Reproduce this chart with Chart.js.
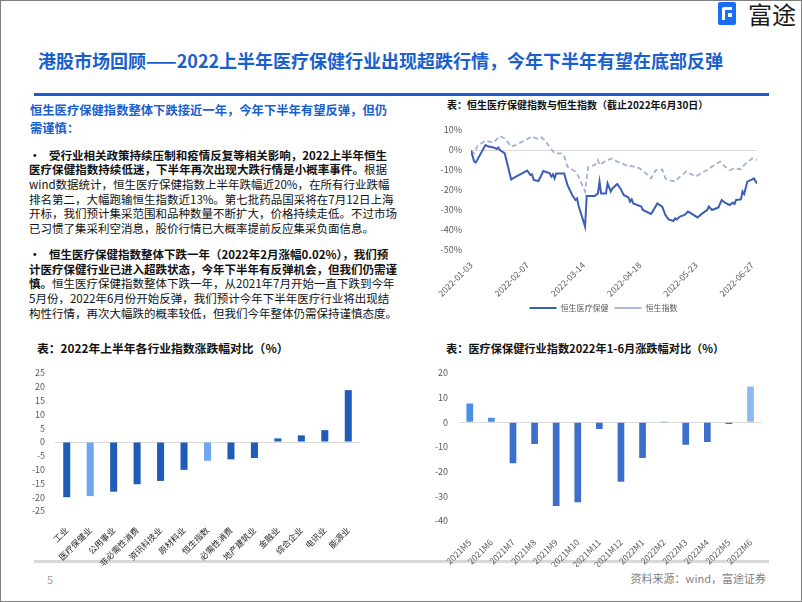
<!DOCTYPE html>
<html><head><meta charset="utf-8">
<script src="https://cdn.jsdelivr.net/npm/chart.js@4.4.1/dist/chart.umd.min.js"></script>
<style>
html,body{margin:0;padding:0;background:#fff;}
#page{position:relative;width:802px;height:602px;overflow:hidden;font-family:"Noto Sans CJK SC","Noto Sans",sans-serif;background:#fff;}
#frame{position:absolute;left:0;top:0;width:800px;height:600px;border:1px solid #7f7f7f;pointer-events:none;}
.t{position:absolute;white-space:nowrap;}
.j{text-align:justify;text-align-last:justify;}
.title{font-size:18px;font-weight:700;color:#1a5fcf;line-height:24px;}
.hd{font-size:12.3px;font-weight:700;color:#1a5fcf;line-height:18px;}
.bd{font-size:11.5px;line-height:15px;color:#111;}
.bd b{font-weight:700;}
.ct{font-weight:700;color:#111;line-height:16px;}
.box{position:absolute;}
</style></head>
<body><div id="page">
<!-- logo -->
<div class="box" style="left:718px;top:2px;width:18px;height:23px;background:#1a6ef5;border-radius:2px;"></div>
<div class="box" style="left:722px;top:7px;width:10px;height:3px;background:#fff;border-top-left-radius:3px;"></div>
<div class="box" style="left:722px;top:7px;width:3px;height:13px;background:#fff;border-top-left-radius:3px;"></div>
<div class="box" style="left:728px;top:13px;width:4px;height:4px;background:#fff;"></div>
<div class="t" style="left:748px;top:0px;font-size:24px;line-height:28px;color:#1a1a1a;">富途</div>

<div class="t title" style="left:38px;top:48px;">港股市场回顾——2022上半年医疗保健行业出现超跌行情，今年下半年有望在底部反弹</div>
<div class="box" style="left:34px;top:93px;width:735px;height:3px;background:#1a5fcf;"></div>

<div class="t hd j" style="left:30px;top:101px;width:357px;">恒生医疗保健指数整体下跌接近一年，今年下半年有望反弹，但仍</div>
<div class="t hd" style="left:30px;top:119px;">需谨慎：</div>

<div class="t bd" style="left:29px;top:147.5px;"><b>•</b></div>
<div class="t bd j" style="left:49px;top:147.5px;width:338px;"><b>受行业相关政策持续压制和疫情反复等相关影响，2022上半年恒生</b></div>
<div class="t bd j" style="left:29px;top:162px;width:358px;"><b>医疗保健指数持续低迷，下半年再次出现大跌行情是小概率事件。</b>根据</div>
<div class="t bd j" style="left:29px;top:176.5px;width:358px;">wind数据统计，恒生医疗保健指数上半年跌幅近20%，在所有行业跌幅</div>
<div class="t bd j" style="left:29px;top:191.5px;width:358px;">排名第二，大幅跑输恒生指数近13%。第七批药品国采将在7月12日上海</div>
<div class="t bd j" style="left:29px;top:206px;width:358px;">开标，我们预计集采范围和品种数量不断扩大，价格持续走低。不过市场</div>
<div class="t bd" style="left:29px;top:220.5px;">已习惯了集采利空消息，股价行情已大概率提前反应集采负面信息。</div>

<div class="t bd" style="left:29px;top:246.5px;"><b>•</b></div>
<div class="t bd j" style="left:49px;top:246.5px;width:338px;"><b>恒生医疗保健指数整体下跌一年（2022年2月涨幅0.02%），我们预</b></div>
<div class="t bd j" style="left:29px;top:261.5px;width:358px;"><b>计医疗保健行业已进入超跌状态，今年下半年有反弹机会，但我们仍需谨</b></div>
<div class="t bd j" style="left:29px;top:276px;width:358px;"><b>慎。</b>恒生医疗保健指数整体下跌一年，从2021年7月开始一直下跌到今年</div>
<div class="t bd j" style="left:29px;top:290.5px;width:358px;">5月份，2022年6月份开始反弹，我们预计今年下半年医疗行业将出现结</div>
<div class="t bd" style="left:29px;top:305.5px;">构性行情，再次大幅跌的概率较低，但我们今年整体仍需保持谨慎态度。</div>

<div class="t ct" style="left:447px;top:97px;font-size:10px;">表：恒生医疗保健指数与恒生指数（截止2022年6月30日）</div>
<div class="t ct" style="left:37px;top:340px;font-size:11.8px;">表：2022年上半年各行业指数涨跌幅对比（%）</div>
<div class="t ct" style="left:446px;top:340px;font-size:11.2px;">表：医疗保保健行业指数2022年1-6月涨跌幅对比（%）</div>

<div class="box" style="left:34px;top:560px;width:735px;height:3px;background:#d9d9d9;"></div>

<div class="box" style="left:420px;top:108px;width:345px;height:214px;"><canvas id="c1"></canvas></div>
<div class="box" style="left:30px;top:353px;width:334px;height:216px;"><canvas id="c2"></canvas></div>
<div class="box" style="left:420px;top:353px;width:346px;height:214px;"><canvas id="c3"></canvas></div>

<div class="t" style="left:47px;top:571px;font-size:11px;line-height:16px;color:#a6a6a6;">5</div>
<div class="t" style="right:36px;top:570px;font-size:11px;line-height:16px;color:#7f7f7f;">资料来源：wind，富途证券</div>
<div id="frame"></div>
</div>
<script>
// ---------- data ----------
const lineTickDates = ['2022-01-03','2022-02-07','2022-03-14','2022-04-18','2022-05-23','2022-06-27'];
const hcDates = ['2022-01-03','2022-01-05','2022-01-06','2022-01-12','2022-01-14','2022-01-17','2022-01-19','2022-01-20','2022-01-21','2022-01-24','2022-01-28','2022-01-31','2022-02-07','2022-02-09','2022-02-10','2022-02-11','2022-02-14','2022-02-17','2022-02-21','2022-02-22','2022-02-23','2022-02-24','2022-02-25','2022-03-02','2022-03-04','2022-03-07','2022-03-09','2022-03-10','2022-03-11','2022-03-15','2022-03-16','2022-03-21','2022-03-23','2022-03-24','2022-03-25','2022-03-28','2022-03-29','2022-03-31','2022-04-01','2022-04-04','2022-04-06','2022-04-08','2022-04-11','2022-04-12','2022-04-13','2022-04-14','2022-04-19','2022-04-20','2022-04-25','2022-04-26','2022-04-29','2022-05-02','2022-05-04','2022-05-06','2022-05-09','2022-05-10','2022-05-11','2022-05-13','2022-05-16','2022-05-18','2022-05-20','2022-05-24','2022-05-27','2022-05-30','2022-05-31','2022-06-02','2022-06-06','2022-06-08','2022-06-10','2022-06-13','2022-06-15','2022-06-16','2022-06-17','2022-06-20','2022-06-21','2022-06-22','2022-06-24','2022-06-27','2022-06-28','2022-06-30'];
const hcValues = [-0.3,-5.8,-6.2,2.5,1.7,1.3,0.5,1.2,0,-1.7,-14.7,-13.3,-10.3,-12.5,-12.2,-15,-15.5,-10.5,-11.7,-13.3,-12.2,-14.2,-11.7,-11.7,-17.5,-22.5,-25,-24.2,-28,-38.3,-23,-23,-21.7,-15.8,-21.7,-21.7,-16.7,-20.8,-19.2,-17,-19.2,-22.5,-23.7,-25.8,-24.7,-26.7,-28.3,-30,-32,-30.8,-26.7,-28.3,-32.5,-34.7,-35.5,-34.2,-34.7,-33.3,-32.5,-30.8,-31.7,-33.7,-31.7,-30,-28.3,-30,-28.7,-25,-26.3,-27.5,-26.3,-27,-25,-24.7,-20.8,-22,-15.8,-14.7,-14.2,-16.7];
const hsiDates = ['2022-01-03','2022-01-05','2022-01-07','2022-01-12','2022-01-17','2022-01-21','2022-01-24','2022-01-28','2022-01-31','2022-02-04','2022-02-10','2022-02-14','2022-02-16','2022-02-18','2022-02-24','2022-02-28','2022-03-02','2022-03-04','2022-03-09','2022-03-11','2022-03-15','2022-03-17','2022-03-21','2022-03-23','2022-03-24','2022-03-28','2022-04-01','2022-04-04','2022-04-07','2022-04-11','2022-04-13','2022-04-18','2022-04-22','2022-04-25','2022-04-28','2022-05-02','2022-05-04','2022-05-06','2022-05-10','2022-05-13','2022-05-17','2022-05-19','2022-05-23','2022-05-26','2022-05-30','2022-06-02','2022-06-07','2022-06-10','2022-06-13','2022-06-16','2022-06-20','2022-06-22','2022-06-27','2022-06-30'];
const hsiValues = [-0.3,-1.7,2.0,4.7,3.7,7.0,5.8,1.7,2.5,4.2,6.7,5.3,6.3,4.7,-1.7,-1.7,-3.3,-8.3,-10.8,-13.3,-20.8,-8.3,-7.5,-5,-7.5,-5.3,-4.2,-5.8,-6.7,-8.3,-8,-9.2,-11.7,-14.2,-10,-9.7,-14.2,-15,-15.8,-13.3,-10.8,-11.7,-13.3,-11.7,-10,-8.3,-5.8,-8.3,-10,-9.2,-9.7,-7.5,-4.2,-5];
const lineSeriesNames = ['恒生医疗保健','恒生指数'];

const sectorNames = ['工业','医疗保健业','公用事业','非必需性消费','资讯科技业','原材料业','恒生指数','必需性消费','地产建筑业','金融业','综合企业','电讯业','能源业'];
const sectorChanges = [-20.0,-19.6,-18.0,-15.3,-14.1,-10.1,-6.8,-6.3,-5.8,1.3,2.4,4.3,18.8];

const monthNames = ['2021M5','2021M6','2021M7','2021M8','2021M9','2021M10','2021M11','2021M12','2022M1','2022M2','2022M3','2022M4','2022M5','2022M6'];
const monthChanges = [7.6,1.9,-16.6,-8.8,-33.9,-32.4,-2.7,-24.1,-14.5,0.02,-9.1,-8.0,-0.7,14.5];

// ---------- helpers ----------
const FONT = '"Noto Sans CJK SC","Noto Sans",sans-serif';
Chart.defaults.font.family = FONT;
Chart.defaults.animation = false;
const base = Date.parse(lineTickDates[0]);
const dayOf = s => (Date.parse(s) - base) / 864e5;
const dateOf = v => new Date(base + v * 864e5).toISOString().slice(0, 10);
const zeroGrid = c => (c.tick && c.tick.value === 0) ? '#d9d9d9' : 'rgba(0,0,0,0)';
const shiftLegend = { id: 'shiftLegend', afterLayout(chart) { const l = chart.legend; if (l) { l.left += 15; l.right += 15; } } };

// ---------- chart 1: lines ----------
new Chart(document.getElementById('c1'), {
  type: 'line',
  data: {
    datasets: [
      { label: lineSeriesNames[0], data: hcDates.map((d, i) => ({ x: dayOf(d), y: hcValues[i] })),
        borderColor: '#3a5fb4', borderWidth: 2, pointRadius: 0, tension: 0, fill: false },
      { label: lineSeriesNames[1], data: hsiDates.map((d, i) => ({ x: dayOf(d), y: hsiValues[i] })),
        borderColor: '#a3b1d6', borderWidth: 1.8, borderDash: [5, 3], pointRadius: 0, tension: 0, fill: false }
    ]
  },
  plugins: [shiftLegend],
  options: {
    responsive: true, maintainAspectRatio: false,
    layout: { padding: { top: 22, right: 8, left: 0, bottom: 0 } },
    plugins: {
      tooltip: { enabled: false },
      legend: { position: 'bottom', align: 'center',
        labels: { usePointStyle: true, pointStyle: 'line', pointStyleWidth: 27, padding: 6,
          color: '#595959', font: { size: 8, family: FONT } } }
    },
    scales: {
      x: { type: 'linear', min: 0, max: dayOf(hcDates[hcDates.length - 1]),
        afterBuildTicks: s => { s.ticks = lineTickDates.map(d => ({ value: dayOf(d) })); },
        afterFit: s => { s.height = 48; },
        grid: { display: false }, border: { display: false },
        ticks: { callback: v => dateOf(v), minRotation: 45, maxRotation: 45, autoSkip: false, padding: 2,
          color: '#595959', font: { size: 8.6 } } },
      y: { min: -50, max: 10,
        afterFit: s => { s.width = 51; },
        grid: { color: zeroGrid, drawTicks: false, lineWidth: 1 }, border: { display: false },
        ticks: { stepSize: 10, autoSkip: false, callback: v => v + '%', padding: 9, color: '#595959', font: { size: 9 } } }
    }
  }
});

// ---------- chart 2: sector bars ----------
const sectorColors = sectorNames.map(n => (n === '医疗保健业' || n === '恒生指数') ? '#6ea6f0' : '#1f5cb8');
new Chart(document.getElementById('c2'), {
  type: 'bar',
  data: { labels: sectorNames, datasets: [{ data: sectorChanges, backgroundColor: sectorColors,
    categoryPercentage: 1, barPercentage: 0.3 }] },
  options: {
    responsive: true, maintainAspectRatio: false,
    layout: { padding: { top: 20, right: 4, left: 0, bottom: 0 } },
    plugins: { legend: { display: false }, tooltip: { enabled: false } },
    scales: {
      x: { afterFit: s => { s.height = 58; }, grid: { display: false }, border: { display: false },
        ticks: { minRotation: 45, maxRotation: 45, autoSkip: false, padding: 6, color: '#262626', font: { size: 8.5 } } },
      y: { min: -25, max: 25, afterFit: s => { s.width = 25; },
        grid: { color: zeroGrid, drawTicks: false }, border: { display: false },
        ticks: { stepSize: 5, autoSkip: false, padding: 10, color: '#595959', font: { size: 9 } } }
    }
  }
});

// ---------- chart 3: monthly bars ----------
const monthColors = monthChanges.map((v, i) => i === monthChanges.length - 1 ? '#8db9f3' : (v > 0 ? '#4a8ee6' : '#3c6fcc'));
new Chart(document.getElementById('c3'), {
  type: 'bar',
  data: { labels: monthNames, datasets: [{ data: monthChanges, backgroundColor: monthColors,
    categoryPercentage: 1, barPercentage: 0.31 }] },
  options: {
    responsive: true, maintainAspectRatio: false,
    layout: { padding: { top: 20, right: 3, left: 0, bottom: 0 } },
    plugins: { legend: { display: false }, tooltip: { enabled: false } },
    scales: {
      x: { afterFit: s => { s.height = 46; }, grid: { display: false }, border: { display: false },
        ticks: { minRotation: 45, maxRotation: 45, autoSkip: false, padding: 8, color: '#595959', font: { size: 8.7 } } },
      y: { min: -40, max: 20, afterFit: s => { s.width = 39; },
        grid: { color: zeroGrid, drawTicks: false }, border: { display: false },
        ticks: { stepSize: 10, autoSkip: false, padding: 11, color: '#595959', font: { size: 9 } } }
    }
  }
});
</script>
</body></html>
